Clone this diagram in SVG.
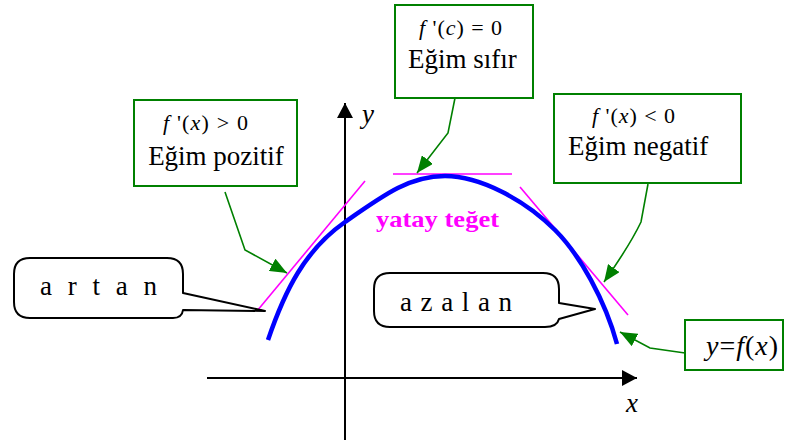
<svg xmlns="http://www.w3.org/2000/svg" width="787" height="442" viewBox="0 0 787 442" font-family="Liberation Serif, serif">
<style>
  .box{fill:#fff;stroke:#008000;stroke-width:2}
  .bub{fill:#fff;stroke:#000;stroke-width:2;stroke-linejoin:round}
  text{font-family:Liberation Serif, serif;fill:#000}
  .it{font-style:italic}
  .gl{fill:none;stroke:#008000;stroke-width:1.6}
  .tan{stroke:#ff00ff;stroke-width:1.6;fill:none}
  .ax{stroke:#000;stroke-width:2;fill:none}
</style>
<defs>
  <marker id="ga" markerUnits="userSpaceOnUse" markerWidth="18" markerHeight="14" refX="17" refY="7" orient="auto">
    <path d="M0,0 L17,7 L0,14 Z" fill="#008000"/>
  </marker>
  <marker id="ka" markerUnits="userSpaceOnUse" markerWidth="16" markerHeight="16" refX="15" refY="8" orient="auto">
    <path d="M0,0 L15,8 L0,16 Z" fill="#000"/>
  </marker>
</defs>

<g id="axes">
  <line class="ax" x1="207" y1="378" x2="637" y2="378" marker-end="url(#ka)"/>
  <line class="ax" x1="345" y1="440" x2="345" y2="103" marker-end="url(#ka)"/>
  <text class="it" x="362" y="123" font-size="27" font-family="Liberation Serif, serif">y</text>
  <text class="it" x="626" y="412" font-size="27" font-family="Liberation Serif, serif">x</text>
</g>

<g id="tangents">
  <line class="tan" x1="257" y1="311" x2="365" y2="181"/>
  <line class="tan" x1="393" y1="174" x2="512" y2="174"/>
  <line class="tan" x1="520" y1="187" x2="628" y2="315"/>
  <text x="376" y="227" font-family="Liberation Serif, serif" font-weight="bold" font-size="24" fill="#ff00ff" style="fill:#ff00ff" textLength="123" lengthAdjust="spacingAndGlyphs">yatay teğet</text>
</g>

<g id="curve">
  <path d="M268,340 C285,290 305,250 345,222 C385,194 410,176 445,176 C480,176 525,200 555,230 C580,255 605,300 617,344" fill="none" stroke="#0000ff" stroke-width="4.5"/>
</g>

<g id="box-pozitif">
  <rect class="box" x="134" y="100" width="163" height="86"/>
  <text x="163" y="130" font-size="22" font-family="Liberation Serif, serif" textLength="85"><tspan class="it">f</tspan> '(<tspan class="it">x</tspan>) &gt; 0</text>
  <text x="216" y="165" font-size="27" font-family="Liberation Serif, serif" text-anchor="middle">Eğim pozitif</text>
</g>

<g id="box-sifir">
  <rect class="box" x="395" y="5" width="138" height="93"/>
  <text x="419" y="35" font-size="22" font-family="Liberation Serif, serif" textLength="83"><tspan class="it">f</tspan> '(<tspan class="it">c</tspan>) = 0</text>
  <text x="408" y="68" font-size="27" font-family="Liberation Serif, serif">Eğim sıfır</text>
</g>

<g id="box-negatif">
  <rect class="box" x="554" y="94" width="187" height="89"/>
  <text x="592" y="123" font-size="22" font-family="Liberation Serif, serif" textLength="83"><tspan class="it">f</tspan> '(<tspan class="it">x</tspan>) &lt; 0</text>
  <text x="568" y="155" font-size="27" font-family="Liberation Serif, serif">Eğim negatif</text>
</g>

<g id="box-fx">
  <rect class="box" x="685" y="320" width="98" height="50"/>
  <text x="706" y="355" font-size="28" font-family="Liberation Serif, serif" textLength="72"><tspan class="it">y</tspan>=<tspan class="it">f</tspan>(<tspan class="it">x</tspan>)</text>
</g>

<g id="bubble-artan">
  <path class="bub" d="M30,258 H167 Q183,258 183,274 V293 L265,311 L183,310 Q182,318 173,318 H30 Q14,318 14,302 V274 Q14,258 30,258 Z"/>
  <text x="40" y="295" font-size="27" font-family="Liberation Serif, serif" textLength="117">a r t a n</text>
</g>

<g id="bubble-azalan">
  <path class="bub" d="M390,273 H543 Q559,273 559,289 V303 L595,309 L559,319 Q557,327 545,327 H390 Q374,327 374,311 V289 Q374,273 390,273 Z"/>
  <text x="400" y="311" font-size="27" font-family="Liberation Serif, serif" textLength="112">a z a l a n</text>
</g>

<g id="connectors">
  <polyline class="gl" points="225,192 245,250 287,273" marker-end="url(#ga)"/>
  <polyline class="gl" points="455,98 448,133 417,173" marker-end="url(#ga)"/>
  <path class="gl" d="M648,184 L641,222 Q630,245 604,282" marker-end="url(#ga)"/>
  <polyline class="gl" points="685,353 650,348 620,332" marker-end="url(#ga)"/>
</g>
</svg>
